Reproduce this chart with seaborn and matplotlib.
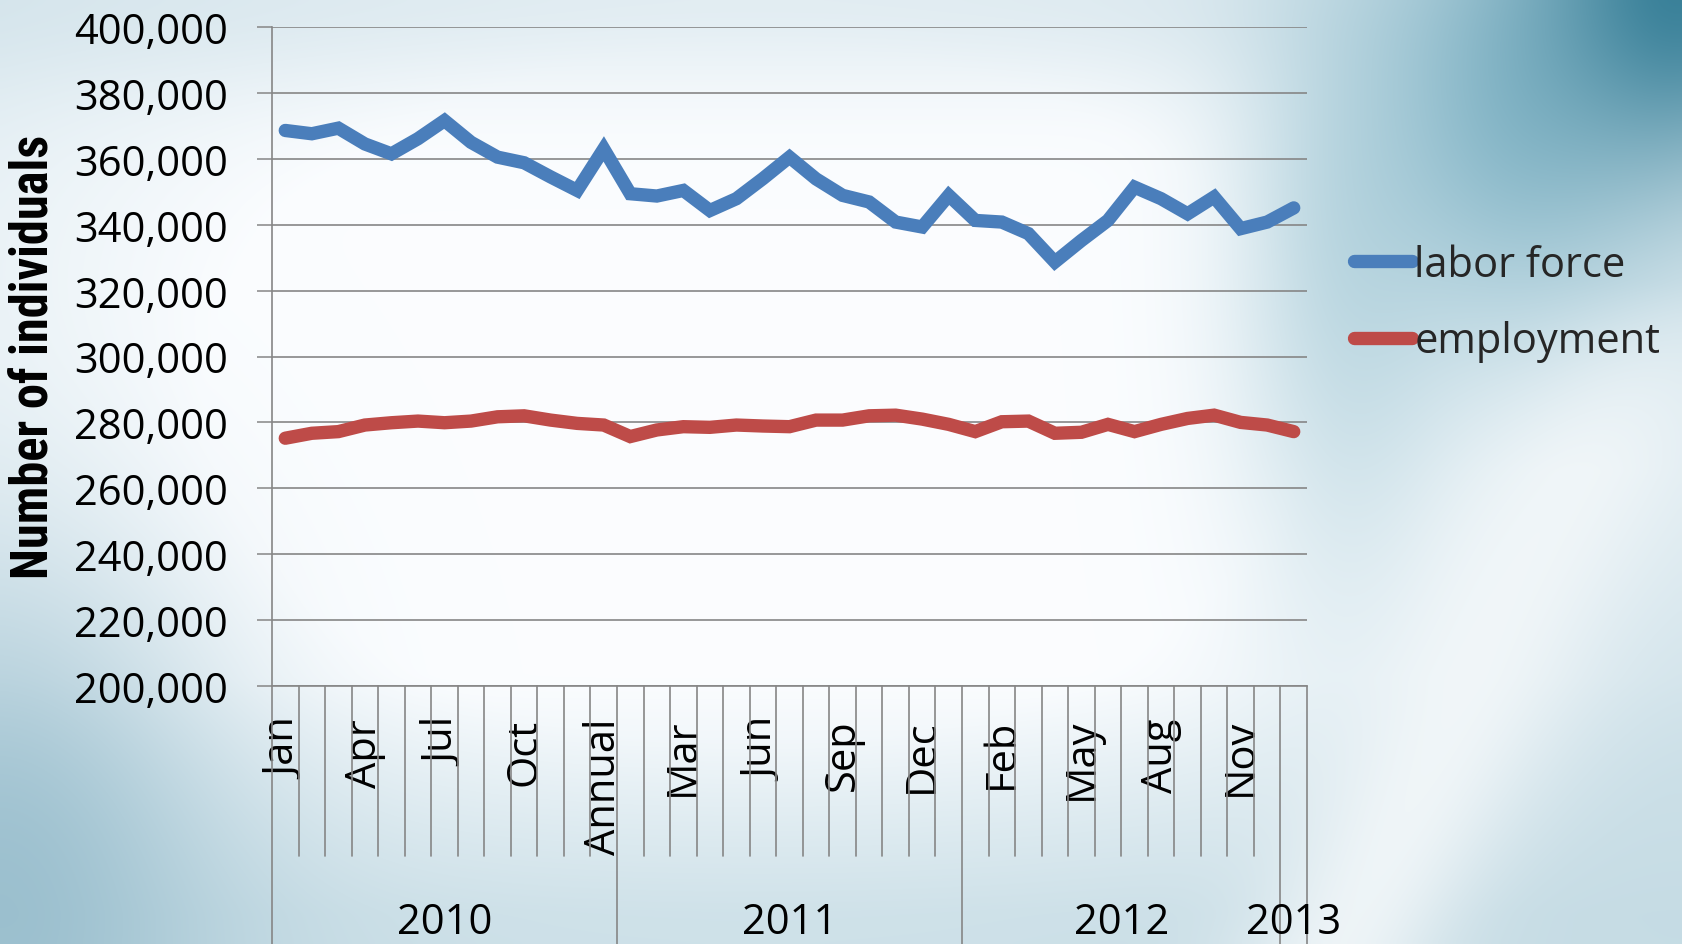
import numpy as np
import pandas as pd
import matplotlib
matplotlib.use("Agg")
import matplotlib.pyplot as plt
import seaborn as sns
from matplotlib.lines import Line2D
from matplotlib.ticker import FuncFormatter, MultipleLocator
from matplotlib import font_manager

# ---------------- data ----------------
months = ["Jan", "Feb", "Mar", "Apr", "May", "Jun",
          "Jul", "Aug", "Sep", "Oct", "Nov", "Dec"]
periods = months + ["Annual"] + months + ["Annual"] + months + ["Jan"]
years = ["2010"] * 13 + ["2011"] * 13 + ["2012"] * 12 + ["2013"] * 1

labor_force = [368600, 367600, 369300, 364500, 361500, 366100, 371600, 365000,
               360500, 358800, 354500, 350400, 363000,
               349400, 348700, 350400, 344300, 347900, 354000, 360500, 353900,
               348900, 346900, 340800, 339300, 348900,
               341300, 340800, 337300, 328700, 335200, 341300, 351400, 347900,
               343300, 348400, 338800, 340800,
               345100]
employment = [275200, 276700, 277200, 279200, 279900, 280400, 279900, 280400,
              281700, 282000, 280700, 279700, 279200,
              275700, 277700, 278700, 278500, 279200, 278900, 278700, 280700,
              280700, 282000, 282200, 281000, 279400,
              277200, 280200, 280400, 276700, 277000, 279400, 277200, 279400,
              281200, 282200, 280000, 279200,
              277200]
series_names = ["labor force", "employment"]
series_colors = {"labor force": "#4A7EBB", "employment": "#BE4B48"}

n = len(periods)
idx = np.arange(n)
df = pd.DataFrame({
    "idx": np.concatenate([idx, idx]),
    "value": labor_force + employment,
    "series": [series_names[0]] * n + [series_names[1]] * n,
})

# ---------------- style ----------------
sns.set_theme(style="white")
plt.rcParams["font.family"] = ["Open Sans", "DejaVu Sans"]
FS = 30
GRID = "#868686"

W_PX, H_PX = 1682, 945
fig = plt.figure(figsize=(W_PX / 100, H_PX / 100), dpi=100)

# ---------------- background gradient ----------------
gh, gw = 189, 336
yy, xx = np.mgrid[0:1:gh * 1j, 0:1:gw * 1j]
img = np.ones((gh, gw, 3)) * np.array([0.985, 0.992, 1.0])


def blend(img, hexcol, w):
    c = np.array(matplotlib.colors.to_rgb(hexcol))
    w = np.clip(w, 0, 1)[..., None]
    return img * (1 - w) + c * w


r = np.sqrt(((xx - 0.45) / 0.55) ** 2 + ((yy - 0.42) / 0.62) ** 2)
img = blend(img, "#bcd6e0", 0.55 * np.clip((r - 0.6) / 0.6, 0, 1))
img = blend(img, "#c9dde6", 0.45 * np.exp(-(yy / 0.10) ** 2))
img = blend(img, "#b9d4de", 0.55 * np.clip((yy - 0.72) / 0.25, 0, 1))
img = blend(img, "#8db6c7", 0.75 * np.exp(-((xx - 0.0) / 0.13) ** 2 - ((yy - 0.95) / 0.35) ** 2))
img = blend(img, "#a9ccd8", 0.6 * np.exp(-((xx - 0.80) / 0.07) ** 2 - ((yy - 0.30) / 0.35) ** 2))
img = blend(img, "#78afc2", 0.75 * np.exp(-((xx - 0.90) / 0.10) ** 2 - ((yy - 0.12) / 0.25) ** 2))
img = blend(img, "#2b7791", 0.9 * np.exp(-((xx - 1.0) / 0.09) ** 2 - ((yy + 0.02) / 0.20) ** 2))
# light diagonal streak lower right
px, py = xx - 0.80, yy - 1.0
dx, dy = 0.2, -0.7
d = np.abs(px * dy - py * dx) / np.hypot(dx, dy)
img = blend(img, "#f4f8fa", 0.85 * np.exp(-(d / 0.06) ** 2) * np.clip((yy - 0.30) / 0.2, 0, 1))
img = blend(img, "#c3dae3", 0.4 * np.exp(-((xx - 1.0) / 0.08) ** 2 - ((yy - 0.85) / 0.25) ** 2))

bg = fig.add_axes([0, 0, 1, 1], zorder=-10)
bg.imshow(img, aspect="auto", extent=[0, 1, 0, 1], interpolation="bicubic", origin="upper")
bg.set_axis_off()

# ---------------- main axes ----------------
L, R, T, B = 272, 1307, 28, 687
ax = fig.add_axes([L / W_PX, 1 - B / H_PX, (R - L) / W_PX, (B - T) / H_PX])
ax.set_facecolor("none")

sns.lineplot(data=df, x="idx", y="value", hue="series", palette=series_colors,
             linewidth=9.6, sort=False, legend=False, ax=ax)
for ln in ax.lines:
    ln.set_solid_capstyle("round")
    ln.set_solid_joinstyle("miter")

ax.set_xlim(-0.5, n - 0.5)
ax.set_ylim(200000, 400000)
ax.yaxis.set_major_locator(MultipleLocator(20000))
ax.yaxis.set_major_formatter(FuncFormatter(lambda v, p: f"{v:,.0f}"))
ax.grid(axis="y", color=GRID, linewidth=1.2)
ax.grid(axis="x", visible=False)
ax.set_axisbelow(True)
for s in ["top", "right"]:
    ax.spines[s].set_visible(False)
for s in ["left", "bottom"]:
    ax.spines[s].set_color(GRID)
    ax.spines[s].set_linewidth(1.2)
ax.tick_params(axis="y", direction="out", length=10.8, width=1.1, color=GRID,
               pad=21, labelsize=FS, labelcolor="black", left=True)
ax.set_xlabel("")
ax.set_ylabel("")

# month tick labels (every third)
tick_pos = idx[::3]
ax.set_xticks(tick_pos)
ax.set_xticklabels([periods[i] for i in tick_pos], rotation=90, va="top", ha="center",
                   fontsize=FS)
ax.tick_params(axis="x", length=0, pad=23, labelcolor="black")

# category separators and year group lines
trans = ax.get_xaxis_transform()
ax_h = B - T
short_y = -(857 - B) / ax_h
long_y = -(960 - B) / ax_h
group_edges = [0]
for i in range(1, n):
    if years[i] != years[i - 1]:
        group_edges.append(i)
group_edges.append(n)
for k in range(n + 1):
    yb = long_y if k in group_edges else short_y
    ax.plot([k - 0.5, k - 0.5], [0, yb], transform=trans, color=GRID,
            linewidth=1.2, clip_on=False, zorder=1)

year_y = -(923 - B) / ax_h
for a, b in zip(group_edges[:-1], group_edges[1:]):
    ax.text((a + b - 1) / 2, year_y, years[a], transform=trans, ha="center",
            va="center", fontsize=FS, color="black", clip_on=False)

# y label: pick a narrow bold family if available, fit to target length
available = {f.name for f in font_manager.fontManager.ttflist}
label_family = "DejaVu Sans"
for cand in ["Liberation Sans Narrow", "Roboto Condensed", "DejaVu Sans Condensed",
             "Open Sans Condensed", "Roboto", "Lato"]:
    if cand in available:
        label_family = cand
        break
ylab = fig.text(35 / W_PX, 1 - 357 / H_PX, "Number of individuals", rotation=90,
                ha="center", va="center", fontsize=36, fontweight="bold",
                family=[label_family, "DejaVu Sans"], color="black")
renderer = fig.canvas.get_renderer()
ext = ylab.get_window_extent(renderer)
target_len = 445.0
ylab.set_fontsize(36 * target_len / ext.height)

# legend
handles = [Line2D([0], [0], color=series_colors[s], linewidth=9.6,
                  solid_capstyle="round") for s in series_names]
fig.legend(handles, series_names, loc="center left",
           bbox_to_anchor=(1354 / W_PX, 1 - 304 / H_PX),
           bbox_transform=fig.transFigure, frameon=False, fontsize=FS,
           handlelength=1.4, handletextpad=0.05, labelspacing=0.82,
           borderpad=0, borderaxespad=0)

fig.savefig("out.png", dpi=100)
